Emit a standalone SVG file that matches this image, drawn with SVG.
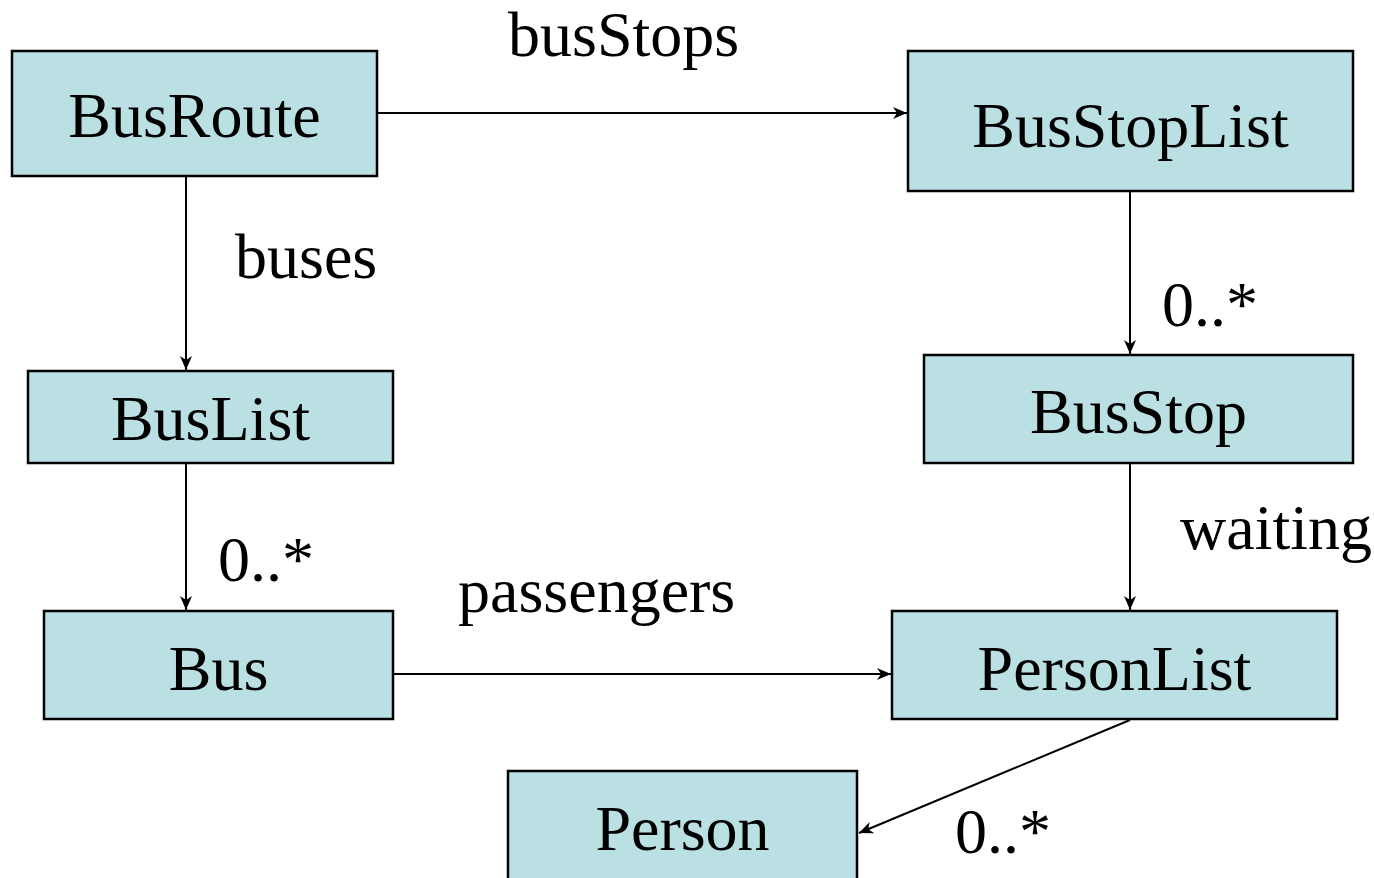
<svg xmlns="http://www.w3.org/2000/svg" width="1374" height="878" viewBox="0 0 1374 878">
<defs>
<style>
.box{fill:#BAE0E3;stroke:#000;stroke-width:2.5}
.t{font-family:"Liberation Serif","Times New Roman",serif;font-size:64px;fill:#000}
.c{text-anchor:middle}
.ln{stroke:#000;stroke-width:2;fill:none;marker-end:url(#ah)}
</style>
<marker id="ah" markerUnits="userSpaceOnUse" markerWidth="16" markerHeight="14" refX="14" refY="7" orient="auto">
<path d="M0,1 L14,7 L0,13 L4,7 z" fill="#000"/>
</marker>
</defs>
<rect width="1374" height="878" fill="#fff"/>
<g id="connectors">
<line class="ln" x1="378" y1="113" x2="907" y2="113"/>
<line class="ln" x1="186" y1="177" x2="186" y2="370"/>
<line class="ln" x1="1130" y1="192" x2="1130" y2="354"/>
<line class="ln" x1="186" y1="464" x2="186" y2="610"/>
<line class="ln" x1="1130" y1="464" x2="1130" y2="610"/>
<line class="ln" x1="394" y1="674" x2="891" y2="674"/>
<line class="ln" x1="1130" y1="720" x2="859" y2="833"/>
</g>
<g id="labels">
<text class="t" x="508" y="56">busStops</text>
<text class="t" x="235" y="278">buses</text>
<text class="t" x="1162" y="326">0..*</text>
<text class="t" x="1180" y="549">waiting</text>
<text class="t" x="218" y="581">0..*</text>
<text class="t" x="458" y="612">passengers</text>
<text class="t" x="955" y="853">0..*</text>
</g>
<g id="BusRoute"><rect class="box" x="12" y="51" width="365" height="125"/><text class="t c" x="194.5" y="137">BusRoute</text></g>
<g id="BusStopList"><rect class="box" x="908" y="51" width="445" height="140"/><text class="t c" x="1130.5" y="147">BusStopList</text></g>
<g id="BusList"><rect class="box" x="28" y="371" width="365" height="92"/><text class="t c" x="210.5" y="440">BusList</text></g>
<g id="BusStop"><rect class="box" x="924" y="355" width="429" height="108"/><text class="t c" x="1138.5" y="433">BusStop</text></g>
<g id="Bus"><rect class="box" x="44" y="611" width="349" height="108"/><text class="t c" x="218.5" y="690">Bus</text></g>
<g id="PersonList"><rect class="box" x="892" y="611" width="445" height="108"/><text class="t c" x="1114.5" y="690">PersonList</text></g>
<g id="Person"><rect class="box" x="508" y="771" width="349" height="120"/><text class="t c" x="682.5" y="850">Person</text></g>
</svg>
